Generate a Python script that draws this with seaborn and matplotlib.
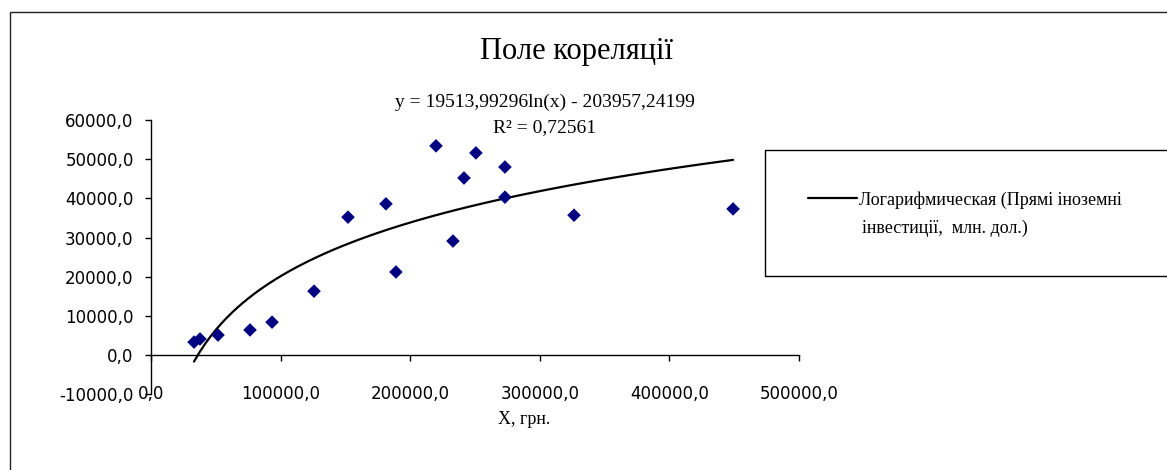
import matplotlib
matplotlib.use("Agg")
import matplotlib.pyplot as plt
from matplotlib.patches import Rectangle
from matplotlib.ticker import FuncFormatter, MultipleLocator
import pandas as pd
import seaborn as sns

# X, грн. / Прямі іноземні інвестиції, млн. дол.
x_values = [33200, 37800, 51700, 76400, 93400, 125800, 152000, 181300, 189000,
            219900, 233000, 241500, 250700, 273100, 273100, 326400, 449100]
y_values = [3300, 4100, 5100, 6400, 8400, 16300, 35200, 38600, 21200,
            53400, 29100, 45200, 51600, 48000, 40300, 35700, 37300]

title = "Поле кореляції"
equation = "y = 19513,99296ln(x) - 203957,24199"
r2_text = "R² = 0,72561"
xlabel = "X, грн."
legend_line1 = "Логарифмическая (Прямі іноземні"
legend_line2 = "інвестиції,  млн. дол.)"

df = pd.DataFrame({"x": x_values, "y": y_values})

sns.set_style("white")
plt.rcParams["font.family"] = ["DejaVu Sans"]
plt.rcParams["text.color"] = "black"
plt.rcParams["xtick.color"] = "black"
plt.rcParams["ytick.color"] = "black"
serif = ["Liberation Serif", "DejaVu Serif"]

W, H = 1167, 470
fig = plt.figure(figsize=(W / 100, H / 100), dpi=100)
ax = fig.add_axes([151 / W, 1 - 394.2 / H, 648 / W, 274.2 / H])

sns.scatterplot(data=df, x="x", y="y", marker="D", s=48, color="#000080",
                edgecolor="none", ax=ax, zorder=3)
# logarithmic trendline fitted by seaborn
sns.regplot(data=df, x="x", y="y", logx=True, scatter=False, ci=None,
            color="black", line_kws={"linewidth": 1.6}, ax=ax,
            label=legend_line1)

ax.set_xlim(0, 500000)
ax.set_ylim(-10000, 60000)
ax.xaxis.set_major_locator(MultipleLocator(100000))
ax.yaxis.set_major_locator(MultipleLocator(10000))
fmt = FuncFormatter(lambda v, p: f"{v:.1f}".replace(".", ","))
ax.xaxis.set_major_formatter(fmt)
ax.yaxis.set_major_formatter(fmt)

ax.spines[["top", "right"]].set_visible(False)
ax.spines["bottom"].set_position(("data", 0))
for s in ["left", "bottom"]:
    ax.spines[s].set_color("black")
    ax.spines[s].set_linewidth(1.0)
ax.tick_params(axis="x", direction="out", length=4.5, width=1, color="black",
               labelcolor="black", pad=17, labelsize=12, bottom=True)
ax.tick_params(axis="y", direction="out", length=4.5, width=1, color="black",
               labelcolor="black", pad=8, labelsize=12, left=True)
ax.set_ylabel("")
ax.set_xlabel("")

# titles and trendline equation
fig.text(577 / W, 1 - 51 / H, title, ha="center", va="center",
         fontsize=22, family=serif, color="black")
fig.text(545 / W, 1 - 102 / H, equation, ha="center", va="center",
         fontsize=14, family=serif, color="black")
fig.text(545 / W, 1 - 128 / H, r2_text, ha="center", va="center",
         fontsize=14, family=serif, color="black")
fig.text(524 / W, 1 - 420 / H, xlabel, ha="center", va="center",
         fontsize=13, family=serif, color="black")

# outer chart frame and legend box
fig.patches.append(Rectangle((10 / W, -0.2), 1.2, 1.2 - 11.5 / H,
                             transform=fig.transFigure, fill=False,
                             edgecolor="#222222", linewidth=1.0))
fig.patches.append(Rectangle((765 / W, 1 - 276 / H), 0.5, 126 / H,
                             transform=fig.transFigure, fill=False,
                             edgecolor="black", linewidth=1.0))

leg = ax.legend(loc="center left", bbox_to_anchor=(808 / W, 1 - 200 / H),
                bbox_transform=fig.transFigure, frameon=False, borderpad=0,
                borderaxespad=0, handlelength=2.7, handletextpad=0.15,
                prop={"family": serif, "size": 13})
for t in leg.get_texts():
    t.set_color("black")
fig.text(862 / W, 1 - 228 / H, legend_line2, ha="left", va="center",
         fontsize=13, family=serif, color="black")

fig.savefig("out.png", dpi=100)
